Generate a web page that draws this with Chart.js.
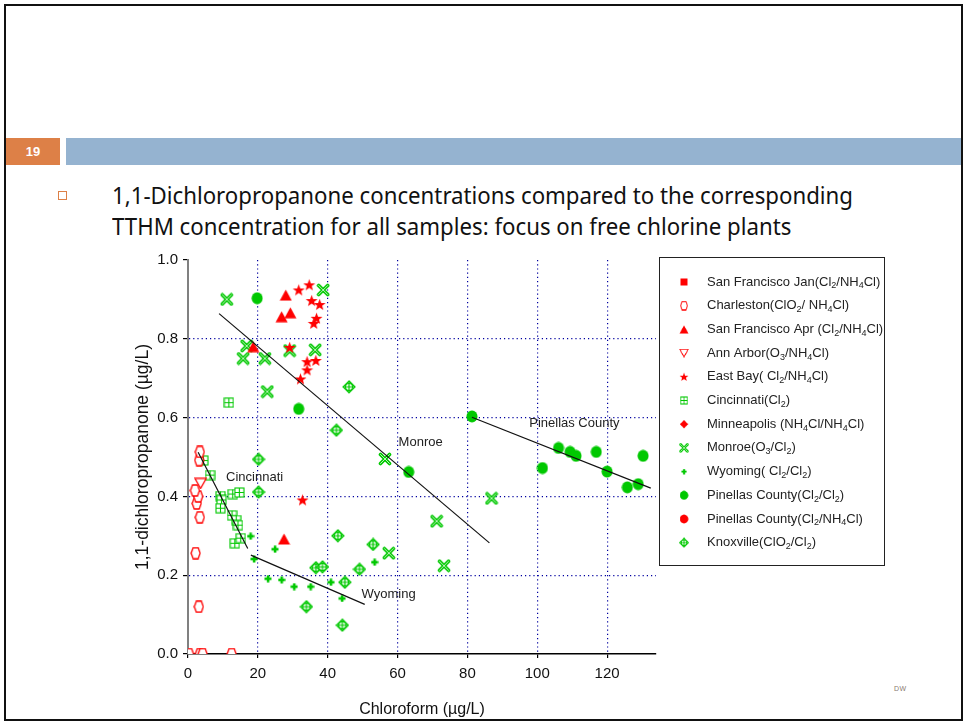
<!DOCTYPE html>
<html>
<head>
<meta charset="utf-8">
<script src="https://cdn.jsdelivr.net/npm/chart.js@4.4.0/dist/chart.umd.min.js"></script>
<style>
  html, body { margin: 0; padding: 0; background: #fff; }
  body { width: 964px; height: 723px; position: relative; overflow: hidden; font-family: "Liberation Sans", Arial, sans-serif; }
  #frame { position: absolute; left: 4px; top: 4px; width: 955px; height: 713px; border: 2px solid #111; }
  #num { position: absolute; left: 6px; top: 138px; width: 54px; height: 27px; background: #dd8047; color: #fff;
         font: bold 13px "Liberation Sans", Arial, sans-serif; line-height: 27px; text-align: center; }
  #bar { position: absolute; left: 66px; top: 138px; width: 895px; height: 27px; background: #95b3d0; }
  #bullet { position: absolute; left: 58px; top: 191px; width: 7px; height: 7px; border: 1.3px solid #dd8047; }
  .line { position: absolute; left: 112px; white-space: nowrap; font-family: "Noto Sans", "Open Sans", sans-serif;
          font-size: 23px; line-height: 26px; color: #111; transform-origin: 0 50%; }
  #l1 { top: 182px; }
  #l2 { top: 213px; }
  #dw { position: absolute; left: 894px; top: 685px; font-size: 7px; color: #8a7a70; letter-spacing: 0.5px; }
  #chart { position: absolute; left: 100px; top: 245px; }
</style>
</head>
<body>
<div id="frame"></div>
<div id="num">19</div>
<div id="bar"></div>
<div id="bullet"></div>
<div class="line" id="l1">1,1-Dichloropropanone concentrations compared to the corresponding</div>
<div class="line" id="l2">TTHM concentration for all samples: focus on free chlorine plants</div>
<div id="dw">DW</div>
<canvas id="chart" width="800" height="478"></canvas>

<script>
// squeeze the two heading lines to the slide's narrow face
(function(){
  const l1 = document.getElementById('l1');
  const l2 = document.getElementById('l2');
  const k = 741 / l1.getBoundingClientRect().width;
  l1.style.transform = 'scaleX(' + k + ')';
  l2.style.transform = 'scaleX(' + k + ')';
})();

// ---- data: [chloroform, 1,1-DCP] in ug/L ----
const xTicks = [0, 20, 40, 60, 80, 100, 120];
const yTicks = [0, 0.2, 0.4, 0.6, 0.8, 1.0];

const sfJan = [];
const charleston = [[0.3,0],[3.4,0],[4.2,0],[12.5,0],[3.1,0.120],[2.2,0.256],[3.4,0.347],[2.5,0.382],
                    [2.9,0.400],[2.0,0.415],[3.2,0.492],[3.4,0.513]];
const sfApr = [[28.0,0.911],[26.8,0.856],[29.3,0.866],[18.7,0.780],[27.5,0.292]];
const annArbor = [[3.6,0.433]];
const eastBay = [[31.7,0.924],[34.7,0.937],[35.4,0.897],[37.7,0.887],[36.8,0.852],[36.0,0.839],[29.1,0.778],
                 [34.1,0.742],[36.6,0.745],[34.1,0.721],[32.2,0.698],[32.8,0.391]];
const cincinnati = [[4.4,0.491],[6.3,0.454],[9.3,0.401],[9.6,0.391],[9.3,0.370],[12.8,0.406],[14.7,0.410],
                    [12.6,0.352],[13.8,0.340],[14.3,0.327],[13.4,0.281],[15.1,0.294],[11.7,0.638]];
const minneapolis = [];
const monroe = [[11.1,0.900],[38.7,0.924],[16.8,0.782],[15.8,0.750],[22.0,0.750],[29.1,0.770],[36.4,0.772],
                [22.7,0.666],[56.4,0.495],[86.9,0.395],[71.2,0.337],[57.5,0.256],[73.3,0.224]];
const wyoming = [[17.9,0.299],[24.9,0.266],[18.9,0.241],[22.9,0.191],[26.8,0.188],[30.4,0.171],[35.1,0.171],
                 [40.9,0.182],[44.1,0.141],[53.4,0.233]];
const pinellasCl2 = [[19.8,0.903],[31.7,0.622],[63.2,0.462],[81.3,0.603],[101.5,0.472],[106.1,0.523],
                     [109.4,0.513],[111.1,0.503],[116.9,0.513],[120.0,0.463],[125.8,0.423],[128.9,0.431],[130.3,0.503]];
const pinellasNH2Cl = [];
const knoxville = [[20.2,0.494],[20.2,0.411],[46.1,0.678],[42.5,0.568],[42.9,0.300],[53.0,0.278],[36.6,0.219],
                   [38.5,0.221],[49.1,0.215],[44.9,0.182],[33.9,0.120],[44.2,0.073]];

// fitted trend lines, two end points each
const trendCincinnati = [[2.9,0.512],[17.1,0.268]];
const trendWyoming = [[18.0,0.251],[50.6,0.126]];
const trendMonroe = [[8.9,0.864],[86.3,0.282]];
const trendPinellas = [[81.3,0.601],[132.5,0.421]];

const trendNames = ['Cincinnati', 'Monroe', 'Pinellas County', 'Wyoming'];
const trendNameAt = [[10.9,0.449],[60.3,0.538],[97.7,0.586],[49.7,0.152]];

// ---- marker images ----
const RED = '#ff0000', GREEN = '#00c800';

function marker(w, h, draw){
  const c = document.createElement('canvas');
  c.width = w; c.height = h;
  const g = c.getContext('2d');
  draw(g, w, h);
  return c;
}
const mkSquare = marker(10, 10, (g,w,h) => { g.fillStyle = RED; g.fillRect(0.5,0.5,9,9); });
const mkHex = marker(11, 13, (g,w,h) => {
  g.strokeStyle = RED; g.lineWidth = 1.3; g.fillStyle = '#fff';
  g.beginPath();
  g.moveTo(3,1); g.lineTo(8,1); g.lineTo(10,6.5); g.lineTo(8,12); g.lineTo(3,12); g.lineTo(1,6.5); g.closePath();
  g.fill(); g.stroke();
});
const mkTri = marker(13, 12, (g,w,h) => {
  g.fillStyle = RED; g.beginPath(); g.moveTo(6.5,0.5); g.lineTo(12.5,11.5); g.lineTo(0.5,11.5); g.closePath(); g.fill();
});
const mkTriDown = marker(13, 12, (g,w,h) => {
  g.strokeStyle = RED; g.lineWidth = 1.3; g.fillStyle = '#fff';
  g.beginPath(); g.moveTo(1,1.2); g.lineTo(12,1.2); g.lineTo(6.5,11); g.closePath(); g.fill(); g.stroke();
});
const mkStar = marker(13, 13, (g,w,h) => {
  g.fillStyle = RED; g.beginPath();
  for (let i = 0; i < 10; i++) {
    const r = i % 2 ? 2.6 : 6.3, a = -Math.PI/2 + i*Math.PI/5;
    const px = 6.5 + r*Math.cos(a), py = 7 + r*Math.sin(a);
    i ? g.lineTo(px, py) : g.moveTo(px, py);
  }
  g.closePath(); g.fill();
});
const mkBoxCross = marker(11, 11, (g,w,h) => {
  g.strokeStyle = GREEN; g.lineWidth = 1.1; g.fillStyle = '#fff';
  g.fillRect(1,1,9,9); g.strokeRect(1,1,9,9);
  g.beginPath(); g.moveTo(5.5,1); g.lineTo(5.5,10); g.moveTo(1,5.5); g.lineTo(10,5.5); g.stroke();
});
const mkDiamond = marker(12, 12, (g,w,h) => {
  g.fillStyle = RED; g.beginPath(); g.moveTo(6,0.5); g.lineTo(11.5,6); g.lineTo(6,11.5); g.lineTo(0.5,6); g.closePath(); g.fill();
});
const mkX = marker(14, 14, (g,w,h) => {
  g.lineCap = 'round';
  g.beginPath(); g.moveTo(2.5,2.5); g.lineTo(11.5,11.5); g.moveTo(11.5,2.5); g.lineTo(2.5,11.5);
  g.strokeStyle = GREEN; g.lineWidth = 3.6; g.stroke();
  g.strokeStyle = '#b8f0b8'; g.lineWidth = 1; g.stroke();
});
const mkPlus = marker(8, 8, (g,w,h) => {
  g.fillStyle = GREEN; g.fillRect(2.8,0.5,2.6,7); g.fillRect(0.5,2.7,7,2.6);
});
const mkDot = marker(12, 13, (g,w,h) => {
  g.fillStyle = GREEN; g.beginPath(); g.ellipse(6,6.5,5.5,6,0,0,Math.PI*2); g.fill();
});
const mkRedDot = marker(12, 13, (g,w,h) => {
  g.fillStyle = RED; g.beginPath(); g.ellipse(6,6.5,5.5,6,0,0,Math.PI*2); g.fill();
});
const mkDiaCross = marker(14, 14, (g,w,h) => {
  g.strokeStyle = GREEN; g.lineWidth = 1.2; g.fillStyle = '#fff';
  g.beginPath(); g.moveTo(7,1); g.lineTo(13,7); g.lineTo(7,13); g.lineTo(1,7); g.closePath(); g.fill(); g.stroke();
  g.beginPath(); g.moveTo(7,1); g.lineTo(7,13); g.moveTo(1,7); g.lineTo(13,7); g.stroke();
  g.beginPath(); g.arc(7,7,3.6,0,Math.PI*2); g.stroke();
});

const pts = arr => arr.map(p => ({x: p[0], y: p[1]}));

const series = [
  ['San Francisco Jan(Cl₂/NH₄Cl)', sfJan, mkSquare],
  ['Charleston(ClO₂/ NH₄Cl)', charleston, mkHex],
  ['San Francisco Apr (Cl₂/NH₄Cl)', sfApr, mkTri],
  ['Ann Arbor(O₃/NH₄Cl)', annArbor, mkTriDown],
  ['East Bay( Cl₂/NH₄Cl)', eastBay, mkStar],
  ['Cincinnati(Cl₂)', cincinnati, mkBoxCross],
  ['Minneapolis (NH₄Cl/NH₄Cl)', minneapolis, mkDiamond],
  ['Monroe(O₃/Cl₂)', monroe, mkX],
  ['Wyoming( Cl₂/Cl₂)', wyoming, mkPlus],
  ['Pinellas County(Cl₂/Cl₂)', pinellasCl2, mkDot],
  ['Pinellas County(Cl₂/NH₄Cl)', pinellasNH2Cl, mkRedDot],
  ['Knoxville(ClO₂/Cl₂)', knoxville, mkDiaCross]
];

const datasets = series.map(([label, data, img]) => ({
  label, data: pts(data), pointStyle: img, pointRadius: 6, showLine: false, inLegend: true
}));
[trendCincinnati, trendWyoming, trendMonroe, trendPinellas].forEach(t => {
  datasets.push({ type: 'line', data: pts(t), borderColor: '#111', borderWidth: 1.2,
                  pointRadius: 0, showLine: true, fill: false, order: -1 });
});

// ---- text drawn at data positions for each trend line ----
const trendLabels = {
  id: 'trendLabels',
  afterDatasetsDraw(chart){
    const {ctx, scales: {x, y}} = chart;
    ctx.save();
    ctx.font = '13px "Liberation Sans", Arial, sans-serif';
    ctx.fillStyle = '#222';
    ctx.textAlign = 'left';
    ctx.textBaseline = 'middle';
    trendNames.forEach((name, i) => {
      ctx.fillText(name, x.getPixelForValue(trendNameAt[i][0]), y.getPixelForValue(trendNameAt[i][1]));
    });
    ctx.restore();
  }
};

// text with subscript digits (₂ ₃ ₄) set lower and smaller
const SUBS = {'₂': '2', '₃': '3', '₄': '4'};
function drawSubText(ctx, text, x, y){
  let run = '';
  const flush = () => { if (run) { ctx.fillText(run, x, y); x += ctx.measureText(run).width; run = ''; } };
  for (const ch of text) {
    if (SUBS[ch]) {
      flush();
      ctx.save();
      ctx.font = '9px "Liberation Sans", Arial, sans-serif';
      ctx.fillText(SUBS[ch], x, y + 4);
      x += ctx.measureText(SUBS[ch]).width;
      ctx.restore();
    } else run += ch;
  }
  flush();
}

// ---- boxed legend to the right of the plot ----
const boxLegend = {
  id: 'boxLegend',
  afterDraw(chart){
    const {ctx} = chart;
    const left = chart.chartArea.right + 3, top = chart.chartArea.top - 3;
    ctx.save();
    ctx.strokeStyle = '#222';
    ctx.lineWidth = 1;
    ctx.strokeRect(left + 0.5, top + 0.5, 225, 308);
    ctx.font = '13px "Liberation Sans", Arial, sans-serif';
    ctx.fillStyle = '#222';
    ctx.textBaseline = 'middle';
    let row = 0;
    chart.data.datasets.forEach(ds => {
      if (!ds.inLegend) return;
      const cy = top + 25 + row * 23.7;
      const img = ds.pointStyle, s = 0.75;
      ctx.drawImage(img, left + 25 - img.width*s/2, cy - img.height*s/2, img.width*s, img.height*s);
      drawSubText(ctx, ds.label, left + 48, cy);
      row++;
    });
    ctx.restore();
  }
};

const NAVY = '#0000a0';
new Chart(document.getElementById('chart').getContext('2d'), {
  type: 'scatter',
  data: { datasets },
  options: {
    responsive: false,
    animation: false,
    layout: { padding: { left: 28, right: 244, top: 15, bottom: 4 } },
    plugins: { legend: { display: false }, tooltip: { enabled: false } },
    scales: {
      x: {
        type: 'linear', min: 0, max: 134,
        afterFit: s => { s.height = 65; },
        afterBuildTicks: s => { s.ticks = xTicks.map(v => ({value: v})); },
        ticks: { includeBounds: false, padding: 7, color: '#111', maxRotation: 0,
                 font: { size: 15, family: '"Liberation Sans", Arial, sans-serif' } },
        grid: { color: c => c.tick && c.tick.value === 0 ? 'rgba(0,0,0,0)' : NAVY,
                lineWidth: 1.2, tickLength: 4, tickColor: '#000' },
        border: { color: '#000', width: 1.5, dash: [1.2, 3] },
        title: { display: true, text: 'Chloroform (µg/L)', color: '#111', padding: { top: 0, bottom: 0 },
                 font: { size: 16, family: '"Liberation Sans", Arial, sans-serif' } }
      },
      y: {
        type: 'linear', min: 0, max: 1,
        afterFit: s => { s.width = 60; },
        afterBuildTicks: s => { s.ticks = yTicks.map(v => ({value: v})); },
        ticks: { padding: 5, color: '#111', callback: v => v.toFixed(1),
                 font: { size: 15, family: '"Liberation Sans", Arial, sans-serif' } },
        grid: { color: c => c.tick && (c.tick.value === 0 || c.tick.value === 1) ? 'rgba(0,0,0,0)' : NAVY,
                lineWidth: 1.2, tickLength: 5, tickColor: '#000' },
        border: { color: '#808080', width: 2, dash: [1.2, 3] },
        title: { display: true, text: '1,1-dichloropropanone (µg/L)', color: '#111', padding: { top: 5, bottom: 0 },
                 font: { size: 17.5, family: '"Liberation Sans", Arial, sans-serif' } }
      }
    }
  },
  plugins: [trendLabels, boxLegend]
});
</script>
</body>
</html>
